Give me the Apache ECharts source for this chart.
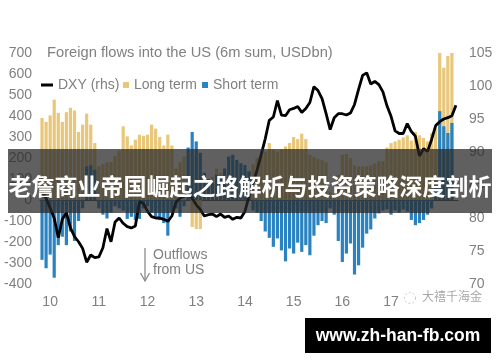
<!DOCTYPE html>
<html>
<head>
<meta charset="utf-8">
<script src="https://cdn.jsdelivr.net/npm/echarts@6/dist/echarts.min.js"></script>
<style>html,body{margin:0;padding:0;background:#fff;}#c{width:500px;height:362px;}</style>
</head>
<body>
<div id="c"></div>
<script>
// ---- data ----
const startYear = 2010, startMonth = 5, monthCount = 103;
const xTickLabels = ['10','11','12','13','14','15','16','17'];
const leftTicks = { min: -400, max: 700, interval: 100 };
const rightTicks = { min: 70, max: 105, interval: 5 };

const longTerm = [
  391,372,403,478,415,372,418,439,426,324,359,411,359,271,
  160,170,180,180,210,235,
  351,303,260,287,311,306,311,359,340,300,260,311,260,
  150,180,207,120,-128,-138,-138,
  60,90,110,150,130,110,100,90,80,90,110,140,170,200,210,230,
  271,240,230,240,255,271,300,290,316,290,
  215,205,195,190,180,40,30,120,215,220,200,165,160,160,160,165,175,185,185,250,
  271,279,287,298,308,283,324,308,295,279,319,345,
  700,630,686,702,null
];
const shortTerm = [
  -285,-325,-260,-370,-215,-175,-215,-150,-195,-100,-40,160,165,145,
  -40,-70,-88,-60,-30,-40,-50,-90,-80,-96,-90,-40,-30,-60,-80,-96,-110,-170,-60,-40,-80,-30,
  250,324,279,225,130,100,80,120,110,150,207,215,191,175,167,135,-50,-60,
  -100,-150,-180,-223,-183,-240,-292,-231,-255,-203,-247,-215,-263,-170,-120,-100,-110,-40,-70,
  -195,-295,-255,-207,-355,-311,-227,-160,-140,-88,-64,
  -50,-45,-70,-50,-60,-45,-55,-95,-120,-110,-95,-70,-40,60,
  423,351,319,367,null
];
const dxy = [
  84,83,81.5,80,77,79.8,80.8,78.5,77.2,76.4,75.4,73.3,74.4,74,74.1,75.5,78.4,76.4,79.4,80,
  79.2,78.7,78.5,78.8,82.5,82.2,81,80.2,80,80,79.8,79.5,80.3,82.4,83,83.3,83.5,83,82,81.3,
  80.3,80.5,80.6,80.2,80.6,80.1,80.3,79.8,80.1,80,81,83.3,85.3,87.3,89.6,92,94.8,95.3,97.8,95.6,
  95.5,96.4,96.6,96.9,96,96.6,97.5,99.9,99.3,98.1,95.8,93.4,95.2,95.8,95.8,95.6,95.9,97.2,99.5,101.6,
  102,100.3,100.7,100.2,99.1,97,95.4,93.2,92.8,92.8,94.3,93.1,92.4,89.4,90.5,90.1,91.9,94,94.6,95,
  95.2,95.5,97.1
];

const months = [];
for (let k = 0; k < monthCount; k++) {
  const m = startMonth - 1 + k;
  const y = startYear + Math.floor(m / 12);
  const mm = (m % 12) + 1;
  months.push(y + '-' + (mm < 10 ? '0' + mm : '' + mm));
}

const GOLD = '#E8C67A', BLUE = '#2A82C0', GREY = '#808080';
const FONT = 'Liberation Sans, Arial, sans-serif';

const chart = echarts.init(document.getElementById('c'), null, { renderer: 'canvas' });
chart.setOption({
  animation: false,
  backgroundColor: '#fff',
  title: {
    text: 'Foreign flows into the US (6m sum, USDbn)',
    left: 47, top: 45, padding: 0,
    textStyle: { fontFamily: FONT, fontSize: 14.7, fontWeight: 'normal', color: GREY }
  },
  legend: [
    {
      data: [{ name: 'DXY (rhs)', icon: 'rect' }],
      left: 41, top: 78, padding: 0, itemWidth: 12, itemHeight: 3,
      selectedMode: false,
      textStyle: { fontFamily: FONT, fontSize: 14, color: GREY }
    },
    {
      data: [{ name: 'Long term', icon: 'rect' }, { name: 'Short term', icon: 'rect' }],
      left: 123, top: 78, padding: 0, itemWidth: 6, itemHeight: 6, itemGap: 5,
      selectedMode: false,
      textStyle: { fontFamily: FONT, fontSize: 14, color: GREY }
    }
  ],
  grid: { left: 40, right: 42, top: 53, bottom: 78 },
  xAxis: {
    type: 'category',
    data: months,
    boundaryGap: true,
    axisLine: { show: true, onZero: true, lineStyle: { color: '#555', width: 1 } },
    axisTick: { show: false },
    axisLabel: {
      margin: 11,
      interval: function (idx, val) { return val.slice(5) === '07' && xTickLabels.indexOf(val.slice(2, 4)) >= 0; },
      formatter: function (val) { return val.slice(2, 4); },
      color: GREY, fontFamily: FONT, fontSize: 14
    },
    splitLine: { show: false }
  },
  yAxis: [
    {
      type: 'value', min: leftTicks.min, max: leftTicks.max, interval: leftTicks.interval,
      axisLine: { show: false }, axisTick: { show: false }, splitLine: { show: false },
      axisLabel: { margin: 8, color: GREY, fontFamily: FONT, fontSize: 14 }
    },
    {
      type: 'value', min: rightTicks.min, max: rightTicks.max, interval: rightTicks.interval,
      position: 'right',
      axisLine: { show: false }, axisTick: { show: false }, splitLine: { show: false },
      axisLabel: { margin: 11, color: GREY, fontFamily: FONT, fontSize: 14 }
    }
  ],
  series: [
    {
      name: 'Long term', type: 'bar', data: longTerm, barWidth: 3.2, barGap: '-100%',
      itemStyle: { color: GOLD }, z: 2
    },
    {
      name: 'Short term', type: 'bar', data: shortTerm, barWidth: 3.2, barGap: '-100%',
      itemStyle: { color: BLUE }, z: 3
    },
    {
      name: 'DXY (rhs)', type: 'line', yAxisIndex: 1, data: dxy,
      showSymbol: false, symbol: 'none', smooth: false,
      lineStyle: { color: '#000', width: 2.8 }, itemStyle: { color: '#000' }, z: 5
    }
  ],
  graphic: [
    // annotation arrow + text
    { type: 'line', shape: { x1: 145, y1: 248, x2: 145, y2: 281 }, style: { stroke: '#8a8a8a', lineWidth: 1.3 }, z: 10 },
    { type: 'polyline', shape: { points: [[140.5, 273], [145, 281], [149.5, 273]] }, style: { stroke: '#8a8a8a', lineWidth: 1.3, fill: null }, z: 10 },
    { type: 'text', left: 153, top: 248, style: { text: 'Outflows', fill: GREY, font: '14px ' + FONT }, z: 10 },
    { type: 'text', left: 153, top: 263, style: { text: 'from US', fill: GREY, font: '14px ' + FONT }, z: 10 },
    // watermark
    { type: 'circle', shape: { cx: 410, cy: 298, r: 5.5 }, style: { stroke: '#c8c8c8', lineWidth: 1, fill: null, lineDash: [2, 2] }, z: 10 },
    { type: 'text', left: 422, top: 290, style: { text: '大禧千海金', fill: '#a8a8a8', font: '12px "Noto Sans CJK SC"' }, z: 10 },
    // overlay banner
    { type: 'rect', shape: { x: 8, y: 149, width: 484, height: 64 }, style: { fill: 'rgba(40,40,40,0.74)' }, z: 100 },
    { type: 'text', x: 250, y: 186, style: { text: '老詹商业帝国崛起之路解析与投资策略深度剖析', fill: '#fff', font: 'bold 23px "Noto Sans CJK SC"', align: 'center', verticalAlign: 'middle' }, z: 101 },
    // bottom box
    { type: 'rect', shape: { x: 305, y: 318, width: 186, height: 35 }, style: { fill: '#000' }, z: 100 },
    { type: 'text', x: 398, y: 336, style: { text: 'www.zh-han-fb.com', fill: '#fff', font: 'bold 17.5px ' + FONT, align: 'center', verticalAlign: 'middle' }, z: 101 }
  ]
});
</script>
</body>
</html>
